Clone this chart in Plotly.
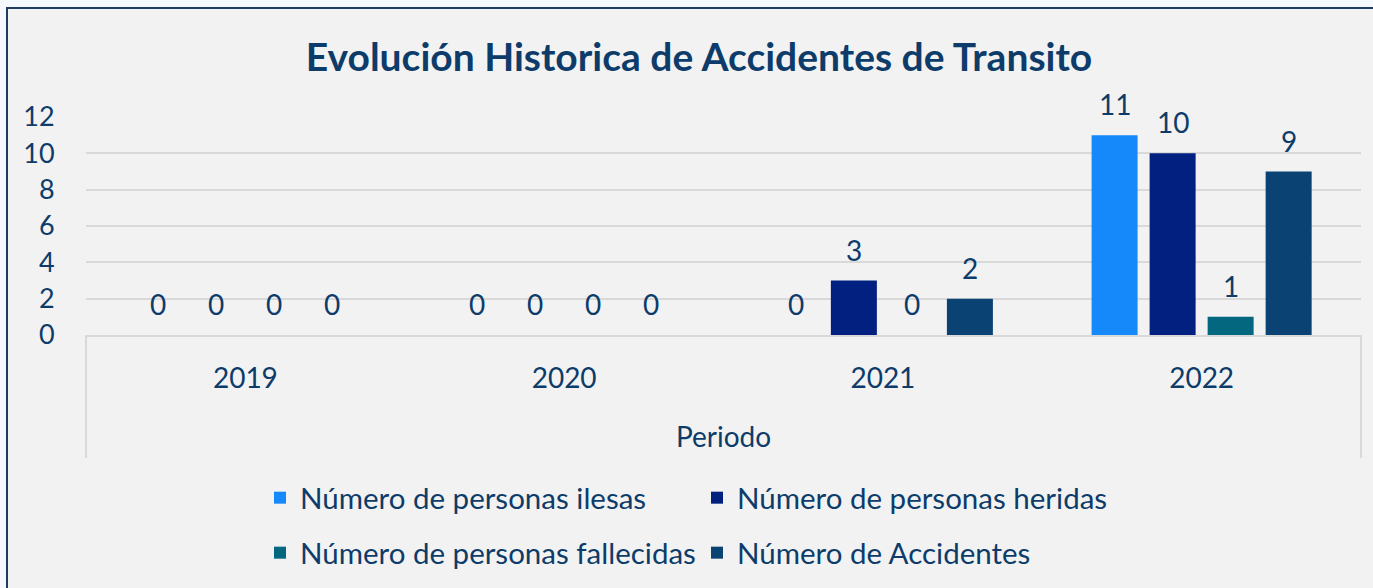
import plotly.graph_objects as go

# ---- data ----
categories = ["2019", "2020", "2021", "2022"]
series_names = [
    "Número de personas ilesas",
    "Número de personas heridas",
    "Número de personas fallecidas",
    "Número de Accidentes",
]
ilesas = [0, 0, 0, 11]
heridas = [0, 0, 3, 10]
fallecidas = [0, 0, 0, 1]
accidentes = [0, 0, 2, 9]
y_ticks = [0, 2, 4, 6, 8, 10, 12]
title_text = "Evolución Historica de Accidentes de Transito"
x_title = "Periodo"

colors = ["#1589F9", "#01207F", "#02677F", "#0B4274"]
legend_ids = ["legend", "legend", "legend2", "legend2"]
text_color = "#0D3C6A"
FONT = "Lato"
FS = 28

W, H = 1373, 588
ML, MR, MT, MB = 86, 12, 117, 253
PW = W - ML - MR
PH = H - MT - MB
BARGAP = 0.272

fig = go.Figure()
all_series = [ilesas, heridas, fallecidas, accidentes]
for name, vals, col, lg in zip(series_names, all_series, colors, legend_ids):
    fig.add_trace(go.Bar(
        x=categories, y=vals, name=name, legend=lg,
        marker=dict(color=col, line=dict(width=0)),
        hoverinfo="x+y+name",
    ))

# data labels above bars
slot_px = PW / len(categories) * (1 - BARGAP) / len(all_series)
for i, vals in enumerate(all_series):
    for j, v in enumerate(vals):
        fig.add_annotation(
            x=j, y=v, text=str(v), showarrow=False,
            xshift=(i - (len(all_series) - 1) / 2) * slot_px, yshift=31,
            yanchor="middle", font=dict(family=FONT, size=FS, color=text_color),
        )

def px_to_x(px):
    return (px - ML) / PW

def px_to_y(py):
    return (H - MB - py) / PH

shapes = [
    # chart frame
    dict(type="rect", xref="paper", yref="paper", layer="below",
         x0=px_to_x(7), x1=px_to_x(W + 20), y0=px_to_y(H + 20), y1=px_to_y(8),
         line=dict(color="#1F3B60", width=2), fillcolor="#F2F2F2"),
    # category axis side lines
    dict(type="line", xref="paper", yref="paper", x0=0, x1=0, y0=0, y1=px_to_y(458),
         line=dict(color="#D9D9D9", width=2)),
    dict(type="line", xref="paper", yref="paper", x0=1, x1=1, y0=0, y1=px_to_y(458),
         line=dict(color="#D9D9D9", width=2)),
]

legend_common = dict(
    orientation="h", xref="container", yref="container",
    xanchor="left", yanchor="middle",
    font=dict(family=FONT, size=29.5, color=text_color),
    bgcolor="rgba(0,0,0,0)", entrywidth=392, entrywidthmode="pixels",
    itemclick=False, itemdoubleclick=False,
)

fig.update_layout(
    width=W, height=H,
    margin=dict(l=ML, r=MR, t=MT, b=MB, autoexpand=False),
    paper_bgcolor="#F5F8FC",
    plot_bgcolor="rgba(0,0,0,0)",
    barmode="group", bargap=BARGAP, bargroupgap=0.207,
    font=dict(family=FONT, color=text_color),
    title=dict(text="<b>" + title_text + "</b>", xref="container", yref="container",
               x=699 / W, y=1 - 57 / H, xanchor="center", yanchor="middle",
               font=dict(family=FONT, size=39, color=text_color)),
    shapes=shapes,
    showlegend=True,
    legend=dict(x=260 / W, y=1 - 498 / H, **legend_common),
    legend2=dict(x=260 / W, y=1 - 553 / H, **legend_common),
    xaxis=dict(
        type="category", categoryorder="array", categoryarray=categories,
        range=[-0.5, len(categories) - 0.5],
        showgrid=False, showline=True, linecolor="#D9D9D9", linewidth=2,
        ticks="outside", ticklen=17, tickcolor="rgba(0,0,0,0)",
        tickfont=dict(family=FONT, size=FS, color=text_color),
        title=dict(text=x_title, standoff=35, font=dict(family=FONT, size=FS, color=text_color)),
        fixedrange=True,
    ),
    yaxis=dict(
        range=[0, 12], tickvals=y_ticks, showgrid=True, gridcolor="#D9D9D9", gridwidth=2,
        zeroline=False, showline=False,
        ticks="outside", ticklen=25, tickcolor="rgba(0,0,0,0)",
        tickfont=dict(family=FONT, size=FS - 1, color=text_color),
        fixedrange=True,
    ),
)

fig.write_html("out.html", config={"displayModeBar": False},
               post_script="document.body.style.margin='0';")
